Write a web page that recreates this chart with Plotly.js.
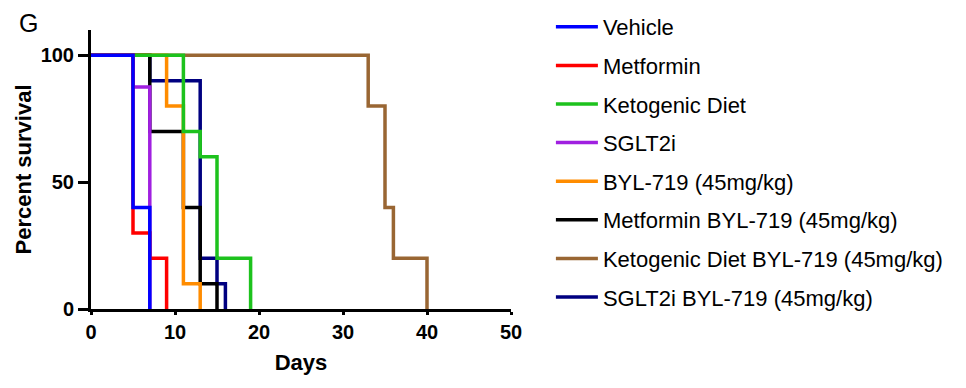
<!DOCTYPE html>
<html>
<head>
<meta charset="utf-8">
<script src="https://cdn.plot.ly/plotly-3.0.1.min.js"></script>
<style>html,body{margin:0;padding:0;background:#fff;}#chart{width:966px;height:388px;}</style>
</head>
<body>
<div id="chart"></div>
<script>
// Group names (legend order)
const groupNames = [
  "Vehicle",
  "Metformin",
  "Ketogenic Diet",
  "SGLT2i",
  "BYL-719 (45mg/kg)",
  "Metformin BYL-719 (45mg/kg)",
  "Ketogenic Diet BYL-719 (45mg/kg)",
  "SGLT2i BYL-719 (45mg/kg)"
];
// Kaplan-Meier step data: days at which survival changes, and survival (%)
const vehicleDays = [0, 5, 7];
const vehicleSurv = [100, 40, 0];
const metforminDays = [0, 5, 7, 9];
const metforminSurv = [100, 30, 20, 0];
const ketoDays = [0, 11, 13, 15, 19];
const ketoSurv = [100, 70, 60, 20, 0];
const sglt2iDays = [0, 5, 7];
const sglt2iSurv = [100, 87.5, 0];
const bylDays = [0, 9, 11, 13];
const bylSurv = [100, 80, 10, 0];
const metBylDays = [0, 7, 11, 13, 15];
const metBylSurv = [100, 70, 40, 10, 0];
const ketoBylDays = [0, 33, 35, 36, 40];
const ketoBylSurv = [100, 80, 40, 20, 0];
const sglt2iBylDays = [0, 7, 13, 15, 16];
const sglt2iBylSurv = [100, 90, 20, 10, 0];

const xTicks = [0, 10, 20, 30, 40, 50];
const yTicks = [0, 50, 100];

const colors = ["#0000FF", "#FF0000", "#1DC21D", "#A020E0", "#FF8C00", "#000000", "#996633", "#000080"];
const seriesDays = [vehicleDays, metforminDays, ketoDays, sglt2iDays, bylDays, metBylDays, ketoBylDays, sglt2iBylDays];
const seriesSurv = [vehicleSurv, metforminSurv, ketoSurv, sglt2iSurv, bylSurv, metBylSurv, ketoBylSurv, sglt2iBylSurv];

// draw in reverse so the first group sits on top, legend keeps original order
const traces = [];
for (let i = groupNames.length - 1; i >= 0; i--) {
  traces.push({
    type: "scatter",
    mode: "lines",
    x: seriesDays[i],
    y: seriesSurv[i],
    name: groupNames[i],
    legendgroup: "g" + i,
    legendrank: i + 1,
    line: {color: colors[i], width: 3.5, shape: "hv"},
    cliponaxis: false,
    hoverinfo: "skip"
  });
}

const F = "Liberation Sans, Arial, sans-serif";
const axisFont = {family: F, size: 20, color: "#000", weight: "bold"};
const layout = {
  width: 966, height: 388,
  margin: {l: 91, r: 455, t: 30, b: 79, pad: 0, autoexpand: false},
  paper_bgcolor: "#fff", plot_bgcolor: "#fff",
  showlegend: true,
  legend: {
    x: 1.095, xanchor: "left", y: 1.086, yanchor: "top",
    traceorder: "grouped", tracegroupgap: 7,
    itemwidth: 42, maxheight: 400,
    font: {family: F, size: 22, color: "#000"},
    bgcolor: "rgba(0,0,0,0)"
  },
  xaxis: {
    range: [0, 50], tickvals: xTicks, ticktext: xTicks.map(String),
    showline: true, linecolor: "#000", linewidth: 3,
    ticks: "outside", ticklen: 3, tickwidth: 3, tickcolor: "#000",
    showgrid: false, zeroline: false, tickfont: axisFont,
    title: {text: "Days", font: {family: F, size: 22, color: "#000", weight: "bold"}, standoff: 13},
    layer: "below traces"
  },
  yaxis: {
    range: [0, 110], tickvals: yTicks, ticktext: yTicks.map(String),
    showline: true, linecolor: "#000", linewidth: 3,
    ticks: "outside", ticklen: 10, tickwidth: 3, tickcolor: "#000",
    showgrid: false, zeroline: false, tickfont: axisFont,
    title: {text: "Percent survival", font: {family: F, size: 22, color: "#000", weight: "bold"}, standoff: 3},
    layer: "below traces"
  },
  annotations: [{
    text: "G", xref: "paper", yref: "paper", x: -0.15, y: 1.025, xanchor: "center", yanchor: "middle",
    showarrow: false, font: {family: F, size: 25, color: "#000"}
  }]
};

Plotly.newPlot("chart", traces, layout, {displayModeBar: false, staticPlot: true});
</script>
</body>
</html>
